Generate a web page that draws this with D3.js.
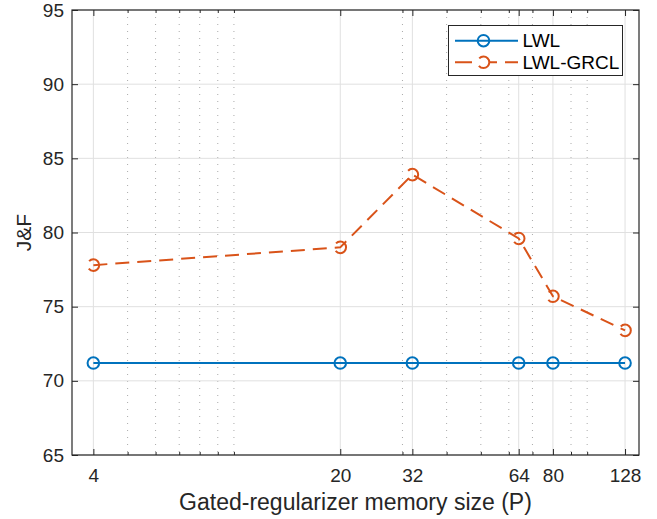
<!DOCTYPE html>
<html>
<head>
<meta charset="utf-8">
<script src="https://cdn.jsdelivr.net/npm/d3@7/dist/d3.min.js"></script>
<style>
  html, body { margin: 0; padding: 0; background: #fff; }
  svg { display: block; font-family: "Liberation Sans", Arial, Helvetica, sans-serif; }
</style>
</head>
<body>
<svg id="chart" width="657" height="519"></svg>
<script>
// Memory sizes and J&F scores
const memorySizes = [4, 20, 32, 64, 80, 128];
const lwl = [71.2, 71.2, 71.2, 71.2, 71.2, 71.2];
const lwlGrcl = [77.8, 79.0, 83.9, 79.6, 75.7, 73.4];
const yTicks = [65, 70, 75, 80, 85, 90, 95];
const minorX = [5, 6, 7, 8, 9, 10, 30, 40, 50, 60, 70, 90, 100];
const seriesNames = ["LWL", "LWL-GRCL"];

const svg = d3.select("#chart");
const plotL = 72, plotR = 639, plotT = 10, plotB = 455;

const x = d3.scaleLog().domain([3.48, 140.2]).range([plotL, plotR]);
const y = d3.scaleLinear().domain([65, 95]).range([plotB, plotT]);

const axisColor = "#262626";
const blue = "#0072BD", orange = "#D95319";

// grid: minor dotted verticals, major solid
const grid = svg.append("g");
grid.selectAll(".minor").data(minorX).join("line")
  .attr("x1", d => x(d)).attr("x2", d => x(d))
  .attr("y1", plotT).attr("y2", plotB)
  .attr("stroke", "#aaaaaa").attr("stroke-width", 1)
  .attr("stroke-dasharray", "1,6");
grid.selectAll(".majx").data(memorySizes).join("line")
  .attr("x1", d => x(d)).attr("x2", d => x(d))
  .attr("y1", plotT).attr("y2", plotB)
  .attr("stroke", "#e0e0e0").attr("stroke-width", 1);
grid.selectAll(".majy").data(yTicks).join("line")
  .attr("x1", plotL).attr("x2", plotR)
  .attr("y1", d => y(d)).attr("y2", d => y(d))
  .attr("stroke", "#e0e0e0").attr("stroke-width", 1);

// axes with inward ticks
const fmt = d3.format("d");
const xAxisB = d3.axisBottom(x).tickValues(memorySizes).tickFormat(fmt).tickSize(-6).tickPadding(14);
const xAxisT = d3.axisTop(x).tickValues(memorySizes).tickFormat("").tickSize(-6);
const yAxisL = d3.axisLeft(y).tickValues(yTicks).tickFormat(fmt).tickSize(-6).tickPadding(8);
const yAxisR = d3.axisRight(y).tickValues(yTicks).tickFormat("").tickSize(-6);
const xMinorB = d3.axisBottom(x).tickValues(minorX).tickFormat("").tickSize(-3);
const xMinorT = d3.axisTop(x).tickValues(minorX).tickFormat("").tickSize(-3);

function style(g) {
  g.select(".domain").remove();
  g.selectAll(".tick line").attr("stroke", axisColor);
  g.selectAll(".tick text").attr("fill", axisColor).style("font-size", "19px")
    .style("font-family", "'Liberation Sans', Arial, sans-serif");
}
svg.append("g").attr("transform", `translate(0,${plotB})`).call(xAxisB).call(style);
svg.append("g").attr("transform", `translate(0,${plotT})`).call(xAxisT).call(style);
svg.append("g").attr("transform", `translate(0,${plotB})`).call(xMinorB).call(style);
svg.append("g").attr("transform", `translate(0,${plotT})`).call(xMinorT).call(style);
svg.append("g").attr("transform", `translate(${plotL},0)`).call(yAxisL).call(style);
svg.append("g").attr("transform", `translate(${plotR},0)`).call(yAxisR).call(style);

// box
svg.append("rect").attr("x", plotL).attr("y", plotT)
  .attr("width", plotR - plotL).attr("height", plotB - plotT)
  .attr("fill", "none").attr("stroke", axisColor).attr("stroke-width", 1.2);

// series
const line = d3.line().x(d => x(d[0])).y(d => y(d[1]));
const s1 = memorySizes.map((m, i) => [m, lwl[i]]);
const s2 = memorySizes.map((m, i) => [m, lwlGrcl[i]]);
const dash = "14,8";

svg.append("path").datum(s1).attr("d", line)
  .attr("fill", "none").attr("stroke", blue).attr("stroke-width", 2);
svg.append("g").selectAll("circle").data(s1).join("circle")
  .attr("cx", d => x(d[0])).attr("cy", d => y(d[1])).attr("r", 5.8)
  .attr("fill", "none").attr("stroke", blue).attr("stroke-width", 2);

svg.append("path").datum(s2).attr("d", line)
  .attr("fill", "none").attr("stroke", orange).attr("stroke-width", 2)
  .attr("stroke-dasharray", dash);
svg.append("g").selectAll("circle").data(s2).join("circle")
  .attr("cx", d => x(d[0])).attr("cy", d => y(d[1])).attr("r", 5.8)
  .attr("fill", "none").attr("stroke", orange).attr("stroke-width", 2)
  .attr("stroke-dasharray", dash);

// axis labels
svg.append("text").attr("x", (plotL + plotR) / 2).attr("y", 510)
  .attr("text-anchor", "middle").attr("fill", axisColor).style("font-size", "23px")
  .text("Gated-regularizer memory size (P)");
svg.append("text").attr("transform", `translate(31,${(plotT + plotB) / 2}) rotate(-90)`)
  .attr("text-anchor", "middle").attr("fill", axisColor).style("font-size", "21px")
  .text("J&F");

// legend
const lg = svg.append("g");
lg.append("rect").attr("x", 448.5).attr("y", 25.5).attr("width", 174).attr("height", 50)
  .attr("fill", "#fff").attr("stroke", axisColor).attr("stroke-width", 1);
const legendRows = [
  { name: seriesNames[0], color: blue, dash: null, y: 40.7 },
  { name: seriesNames[1], color: orange, dash: dash, y: 62.3 }
];
legendRows.forEach(r => {
  lg.append("line").attr("x1", 455).attr("x2", 518).attr("y1", r.y).attr("y2", r.y)
    .attr("stroke", r.color).attr("stroke-width", 2)
    .attr("stroke-dasharray", r.dash ? "17,8" : null);
  lg.append("circle").attr("cx", 483.5).attr("cy", r.y).attr("r", 5.8)
    .attr("fill", r.dash ? "#fff" : "none").attr("stroke", r.color).attr("stroke-width", 2)
    .attr("stroke-dasharray", r.dash);
  lg.append("text").attr("x", 522.5).attr("y", r.y + 6.5)
    .attr("fill", "#000").style("font-size", "19px").text(r.name);
});
</script>
</body>
</html>
